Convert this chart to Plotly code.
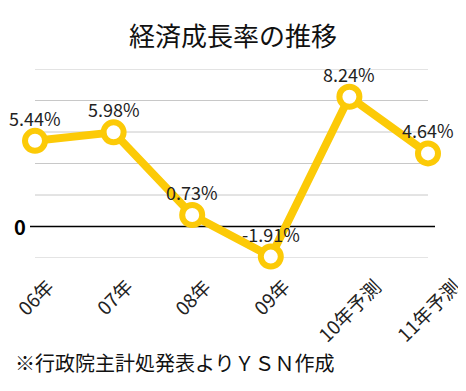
import plotly.graph_objects as go

categories = ["06年", "07年", "08年", "09年", "10年予測", "11年予測"]
growth = [5.44, 5.98, 0.73, -1.91, 8.24, 4.64]
value_labels = ["5.44%", "5.98%", "0.73%", "-1.91%", "8.24%", "4.64%"]
y_gridlines = [-2, 2, 4, 6, 8, 10]

YELLOW = "#FCCA07"
FONT = "Noto Sans CJK JP"

# page body has an 8px margin; work in reference pixel coordinates and shift
OFF = 8
W, H = 466 - OFF, 391 - OFF
L, T = 35 - OFF, 69 - OFF
R = W - (428 - OFF)
B = H - (258 - OFF)
plot_h = H - T - B
plot_w = W - L - R

def py(pix):
    return (H - B - (pix - OFF)) / plot_h

def px(pix):
    return ((pix - OFF) - L) / plot_w

fig = go.Figure()
fig.add_trace(go.Scatter(
    x=list(range(len(categories))), y=growth,
    mode="lines+markers",
    line=dict(color=YELLOW, width=8),
    marker=dict(size=20, color="white", line=dict(color=YELLOW, width=6)),
    cliponaxis=False, hoverinfo="skip",
))

annotations = []
for i, (v, lab) in enumerate(zip(growth, value_labels)):
    annotations.append(dict(x=i, y=v, xref="x", yref="y", text=lab, showarrow=False,
                            yshift=23, font=dict(family=FONT, size=18, color="#222")))
for i, c in enumerate(categories):
    annotations.append(dict(x=i, y=py(270), xref="x", yref="paper", text=c, showarrow=False,
                            textangle=-45, xanchor="center", yanchor="top",
                            font=dict(family=FONT, size=19, color="#222")))
annotations.append(dict(x=px(20), y=0, xref="paper", yref="y", text="<b>0</b>", showarrow=False,
                        xanchor="center", yanchor="middle", font=dict(family=FONT, size=20, color="black")))
annotations.append(dict(x=px(233), y=py(35), xref="paper", yref="paper", text="経済成長率の推移",
                        showarrow=False, xanchor="center", yanchor="middle",
                        font=dict(family=FONT, size=26, color="#111")))
annotations.append(dict(x=px(13), y=py(362), xref="paper", yref="paper",
                        text="※行政院主計処発表よりＹＳＮ作成", showarrow=False,
                        xanchor="left", yanchor="middle",
                        font=dict(family=FONT, size=20, color="#111")))

shapes = []
for g in y_gridlines:
    shapes.append(dict(type="line", xref="paper", yref="y", x0=0, x1=1, y0=g, y1=g,
                       line=dict(color="#C8C8C8", width=1), layer="below"))
shapes.append(dict(type="line", xref="paper", yref="y", x0=px(30), x1=px(435), y0=0, y1=0,
                   line=dict(color="black", width=1.5), layer="below"))

fig.update_layout(
    width=W, height=H,
    margin=dict(l=L, r=R, t=T, b=B),
    paper_bgcolor="white", plot_bgcolor="white",
    showlegend=False,
    xaxis=dict(range=[0, 5], showgrid=False, zeroline=False, showticklabels=False, showline=False),
    yaxis=dict(range=[-2, 10], showgrid=False, zeroline=False, showticklabels=False, showline=False),
    annotations=annotations, shapes=shapes,
)
fig.write_html("out.html")
